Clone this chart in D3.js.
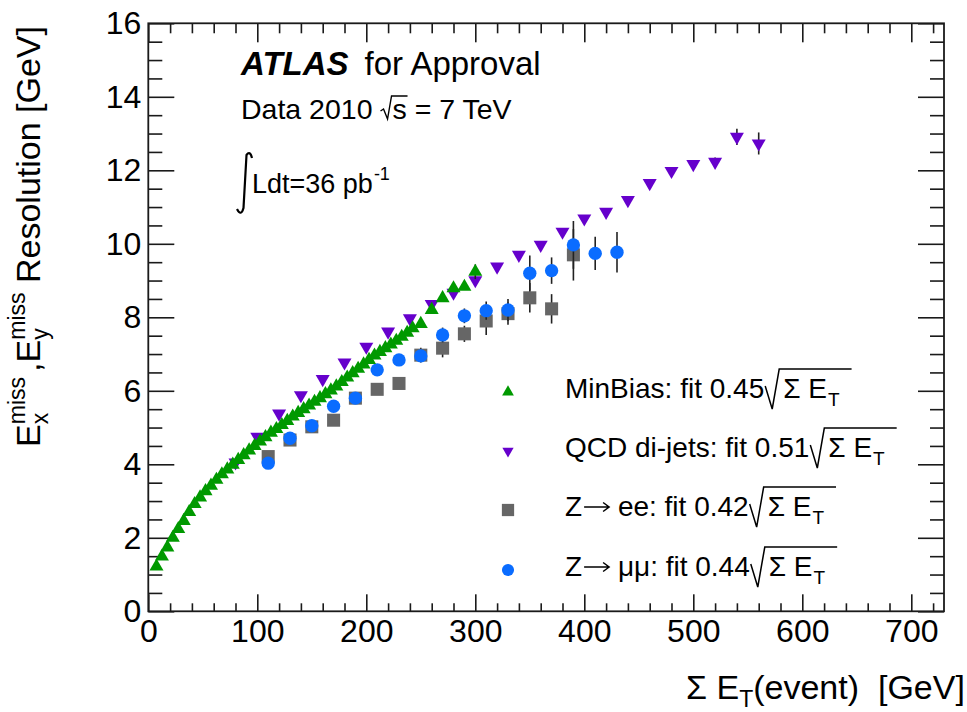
<!DOCTYPE html>
<html><head><meta charset="utf-8">
<script src="https://cdn.jsdelivr.net/npm/d3@7"></script>
<style>
html,body{margin:0;padding:0;background:#fff;overflow:hidden}
text{font-family:"Liberation Sans",Arial,Helvetica,sans-serif;fill:#000}
</style></head>
<body>
<svg id="c" width="967" height="712"></svg>
<script>
// ---------------- data ----------------
const minbiasX = [7.5,12.5,17.5,22.5,27.5,32.5,37.5,42.5,47.5,52.5,57.5,62.5,67.5,72.5,77.5,82.5,87.5,92.5,97.5,102.5,107.5,112.5,117.5,122.5,127.5,132.5,137.5,142.5,147.5,152.5,157.5,162.5,167.5,172.5,177.5,182.5,187.5,192.5,197.5,202.5,207.5,212.5,217.5,222.5,227.5,232.5,237.5,242.5,250,260,270,280,290,300];
const minbiasY = [1.22,1.49,1.74,2.00,2.24,2.46,2.70,2.92,3.10,3.27,3.42,3.58,3.73,3.86,3.99,4.12,4.25,4.38,4.50,4.62,4.74,4.86,4.96,5.07,5.18,5.30,5.40,5.50,5.60,5.70,5.80,5.91,6.01,6.12,6.24,6.36,6.48,6.60,6.72,6.84,6.96,7.06,7.16,7.26,7.36,7.47,7.58,7.70,7.82,8.20,8.52,8.79,8.83,9.24];
const minbiasErr = minbiasX.map((v,i)=> i>=minbiasX.length-1 ? 0.2 : 0);

const qcdX = [80,100,120,140,160,180,200,220,240,260,280,300,320,340,360,380,400,420,440,460,480,500,520,540,560];
const qcdY = [4.05,4.75,5.38,5.88,6.32,6.77,7.20,7.61,7.97,8.36,8.67,9.01,9.38,9.70,9.97,10.33,10.69,10.87,11.19,11.65,11.98,12.17,12.23,12.91,12.73];
const qcdErr = [0,0,0,0,0,0,0,0,0,0,0,0.05,0.05,0.05,0.05,0.05,0.06,0.06,0.07,0.08,0.08,0.1,0.12,0.22,0.3];

const zeeX = [110,130,150,170,190,210,230,250,270,290,310,330,350,370,390];
const zeeY = [4.21,4.66,5.02,5.20,5.80,6.04,6.20,6.97,7.16,7.55,7.90,8.10,8.53,8.23,9.70];
const zeeErr = [0.08,0.1,0.1,0.1,0.1,0.12,0.12,0.2,0.25,0.22,0.38,0.3,0.4,0.4,0.7];

const zmmX = [110,130,150,170,190,210,230,250,270,290,310,330,350,370,390,410,430];
const zmmY = [4.03,4.71,5.05,5.58,5.80,6.57,6.84,6.95,7.52,8.04,8.18,8.20,9.20,9.27,9.97,9.74,9.77];
const zmmErr = [0.08,0.1,0.1,0.1,0.12,0.12,0.15,0.15,0.2,0.2,0.25,0.3,0.48,0.36,0.65,0.45,0.55];

const xMajor = [0,100,200,300,400,500,600,700];
const yMajor = [0,2,4,6,8,10,12,14,16];
// legend: text parts, "ARROW" is drawn as a long arrow
const legendLabels = [["MinBias: fit 0.45"],["QCD di-jets: fit 0.51"],["Z","ARROW","\u00a0ee: fit 0.42"],["Z","ARROW","\u00a0\u03bc\u03bc: fit 0.44"]];

// ---------------- setup ----------------
const svg = d3.select('#c');
const X0=148.3, X1=944, Y0=23.3, Y1=611.3;
const x = d3.scaleLinear().domain([0,730]).range([X0,X1]);
const y = d3.scaleLinear().domain([0,16]).range([Y1,Y0]);
const AX = '#1a1a1a';
const xMinor = d3.range(0,731,20).filter(v=>v%100!==0);
const yMinor = d3.range(0,16.01,0.5).filter(v=>Math.abs(v%2)>1e-6);

function styleAxis(g){
  g.select('.domain').remove();
  g.selectAll('line').attr('stroke',AX).attr('stroke-width',1.6);
}
// bottom
svg.append('g').attr('transform',`translate(0,${Y1})`)
  .call(d3.axisBottom(x).tickValues(xMajor).tickSizeInner(-17).tickSizeOuter(0).tickPadding(8).tickFormat(d3.format('d')))
  .call(styleAxis).call(g=>g.selectAll('text').attr('font-size',32).attr('font-family','Liberation Sans, Arial').attr('fill','#000'));
svg.append('g').attr('transform',`translate(0,${Y1})`)
  .call(d3.axisBottom(x).tickValues(xMinor).tickSizeInner(-8).tickSizeOuter(0).tickFormat(''))
  .call(styleAxis);
// top
svg.append('g').attr('transform',`translate(0,${Y0})`)
  .call(d3.axisTop(x).tickValues(xMajor).tickSizeInner(-19).tickSizeOuter(0).tickFormat(''))
  .call(styleAxis);
svg.append('g').attr('transform',`translate(0,${Y0})`)
  .call(d3.axisTop(x).tickValues(xMinor).tickSizeInner(-10).tickSizeOuter(0).tickFormat(''))
  .call(styleAxis);
// left
svg.append('g').attr('transform',`translate(${X0},0)`)
  .call(d3.axisLeft(y).tickValues(yMajor).tickSizeInner(-26).tickSizeOuter(0).tickPadding(7).tickFormat(d3.format('d')))
  .call(styleAxis).call(g=>g.selectAll('text').attr('font-size',32).attr('font-family','Liberation Sans, Arial').attr('fill','#000'));
svg.append('g').attr('transform',`translate(${X0},0)`)
  .call(d3.axisLeft(y).tickValues(yMinor).tickSizeInner(-14).tickSizeOuter(0).tickFormat(''))
  .call(styleAxis);
// right
svg.append('g').attr('transform',`translate(${X1},0)`)
  .call(d3.axisRight(y).tickValues(yMajor).tickSizeInner(-26).tickSizeOuter(0).tickFormat(''))
  .call(styleAxis);
svg.append('g').attr('transform',`translate(${X1},0)`)
  .call(d3.axisRight(y).tickValues(yMinor).tickSizeInner(-14).tickSizeOuter(0).tickFormat(''))
  .call(styleAxis);
// frame
svg.append('rect').attr('x',X0).attr('y',Y0).attr('width',X1-X0).attr('height',Y1-Y0)
  .attr('fill','none').attr('stroke',AX).attr('stroke-width',1.8);

// ---------------- series ----------------
const series = [
  {X:qcdX,Y:qcdY,E:qcdErr,color:'#6600cc',sym:d3.symbolTriangle,size:85,rot:180},
  {X:zeeX,Y:zeeY,E:zeeErr,color:'#666666',sym:d3.symbolSquare,size:170,rot:0},
  {X:zmmX,Y:zmmY,E:zmmErr,color:'#0a6cff',sym:d3.symbolCircle,size:140,rot:0},
  {X:minbiasX,Y:minbiasY,E:minbiasErr,color:'#009900',sym:d3.symbolTriangle,size:85,rot:0},
];
series.forEach(s=>{
  const g = svg.append('g');
  const idx = d3.range(s.X.length);
  g.selectAll('line.err').data(idx.filter(i=>s.E[i]>0)).join('line')
    .attr('x1',i=>x(s.X[i])).attr('x2',i=>x(s.X[i]))
    .attr('y1',i=>y(s.Y[i]-s.E[i])).attr('y2',i=>y(s.Y[i]+s.E[i]))
    .attr('stroke','#222').attr('stroke-width',1.6);
  g.selectAll('path.m').data(idx).join('path')
    .attr('d',d3.symbol().type(s.sym).size(s.size))
    .attr('transform',i=>`translate(${x(s.X[i])},${y(s.Y[i])}) rotate(${s.rot})`)
    .attr('fill',s.color);
});

// ---------------- text helpers ----------------
function txt(p,str,xx,yy,size,opt={}){
  const t=p.append('text').attr('x',xx).attr('y',yy).attr('font-size',size).text(str);
  if(opt.weight) t.attr('font-weight',opt.weight);
  if(opt.style) t.attr('font-style',opt.style);
  if(opt.anchor) t.attr('text-anchor',opt.anchor);
  if(opt.family) t.style('font-family',opt.family);
  return t;
}
function w(t){return t.node().getComputedTextLength();}

// ATLAS label
const at = txt(svg,'ATLAS',241,75,33,{weight:'bold',style:'italic'});
txt(svg,'for Approval',241+w(at)+16,75,33);
// Data 2010 sqrt(s) = 7 TeV
const d1 = txt(svg,'Data 2010',241,119,28.5);
let rx = 241 + w(d1) + 8;
svg.append('path').attr('d',`M${rx},${119-8} L${rx+3},${119-10} L${rx+7},${119} L${rx+11},${119-23} L${rx+27},${119-23}`)
  .attr('fill','none').attr('stroke','#000').attr('stroke-width',1.4);
txt(svg,'s = 7 TeV',rx+12,119,28.5);
// integral
svg.append('path').attr('d','M252,158 Q250,150 246.5,155 L243.5,208 Q241,217 237,209')
  .attr('fill','none').attr('stroke','#000').attr('stroke-width',2.2);
const l1 = txt(svg,'Ldt=36 pb',252,193,27);
txt(svg,'-1',252+w(l1)+1,180,18);

// ---------------- legend ----------------
const legY = [398,457,516,576];
const legMk = [
  {color:'#009900',sym:d3.symbolTriangle,size:60,rot:0},
  {color:'#6600cc',sym:d3.symbolTriangle,size:55,rot:180},
  {color:'#666666',sym:d3.symbolSquare,size:150,rot:0},
  {color:'#0a6cff',sym:d3.symbolCircle,size:115,rot:0},
];
const LF = 28;
legendLabels.forEach((parts,i)=>{
  const b = legY[i];
  const m = legMk[i];
  svg.append('path').attr('d',d3.symbol().type(m.sym).size(m.size))
    .attr('transform',`translate(508,${b-6}) rotate(${m.rot})`).attr('fill',m.color);
  let cx = 565;
  parts.forEach(p=>{
    if(p==='ARROW'){
      const ay = b-9;
      svg.append('path').attr('d',`M${cx+2},${ay} L${cx+27},${ay} M${cx+21},${ay-4.5} L${cx+27},${ay} L${cx+21},${ay+4.5}`)
        .attr('fill','none').attr('stroke','#000').attr('stroke-width',1.5);
      cx += 28;
    } else {
      const t = txt(svg,p,cx,b,LF);
      cx += w(t);
    }
  });
  const xr = cx + 1;
  const s1 = txt(svg,'\u03a3 E',xr+18,b,LF);
  const s2 = txt(svg,'T',xr+18+w(s1)+1,b+8,19);
  const xe = xr+18+w(s1)+1+w(s2)+12;
  svg.append('path').attr('d',`M${xr},${b-12} L${xr+7},${b+11} L${xr+14},${b-29} L${xe},${b-29}`)
    .attr('fill','none').attr('stroke','#000').attr('stroke-width',1.5);
});

// ---------------- axis titles ----------------
// x title
const xt = svg.append('text').attr('x',686).attr('y',699).attr('font-size',34);
xt.append('tspan').text('\u03a3 E');
xt.append('tspan').attr('dy',8).attr('font-size',23).text('T');
xt.append('tspan').attr('dy',-8).text('(event)\u00a0\u00a0[GeV]');

// y title (rotated)
const gy = svg.append('g');
const F=34, f2=23;
let u=0;
function piece(str,size,v){ const t=txt(gy,str,u,v,size); return t; }
let t;
t=piece('E',F,0); u+=w(t);
let s=u; t=piece('miss',f2,-15); let wa=w(t); u=s; t=piece('x',f2,8); u=s+Math.max(wa,w(t))+5;
t=piece(',',F,0); u+=w(t);
t=piece('E',F,0); u+=w(t);
s=u; t=piece('miss',f2,-15); wa=w(t); u=s; t=piece('y',f2,8); u=s+Math.max(wa,w(t));
t=piece('\u00a0Resolution [GeV]',F,0); u+=w(t);
gy.attr('transform',`translate(40,${26+u}) rotate(-90)`);
</script>
</body></html>
